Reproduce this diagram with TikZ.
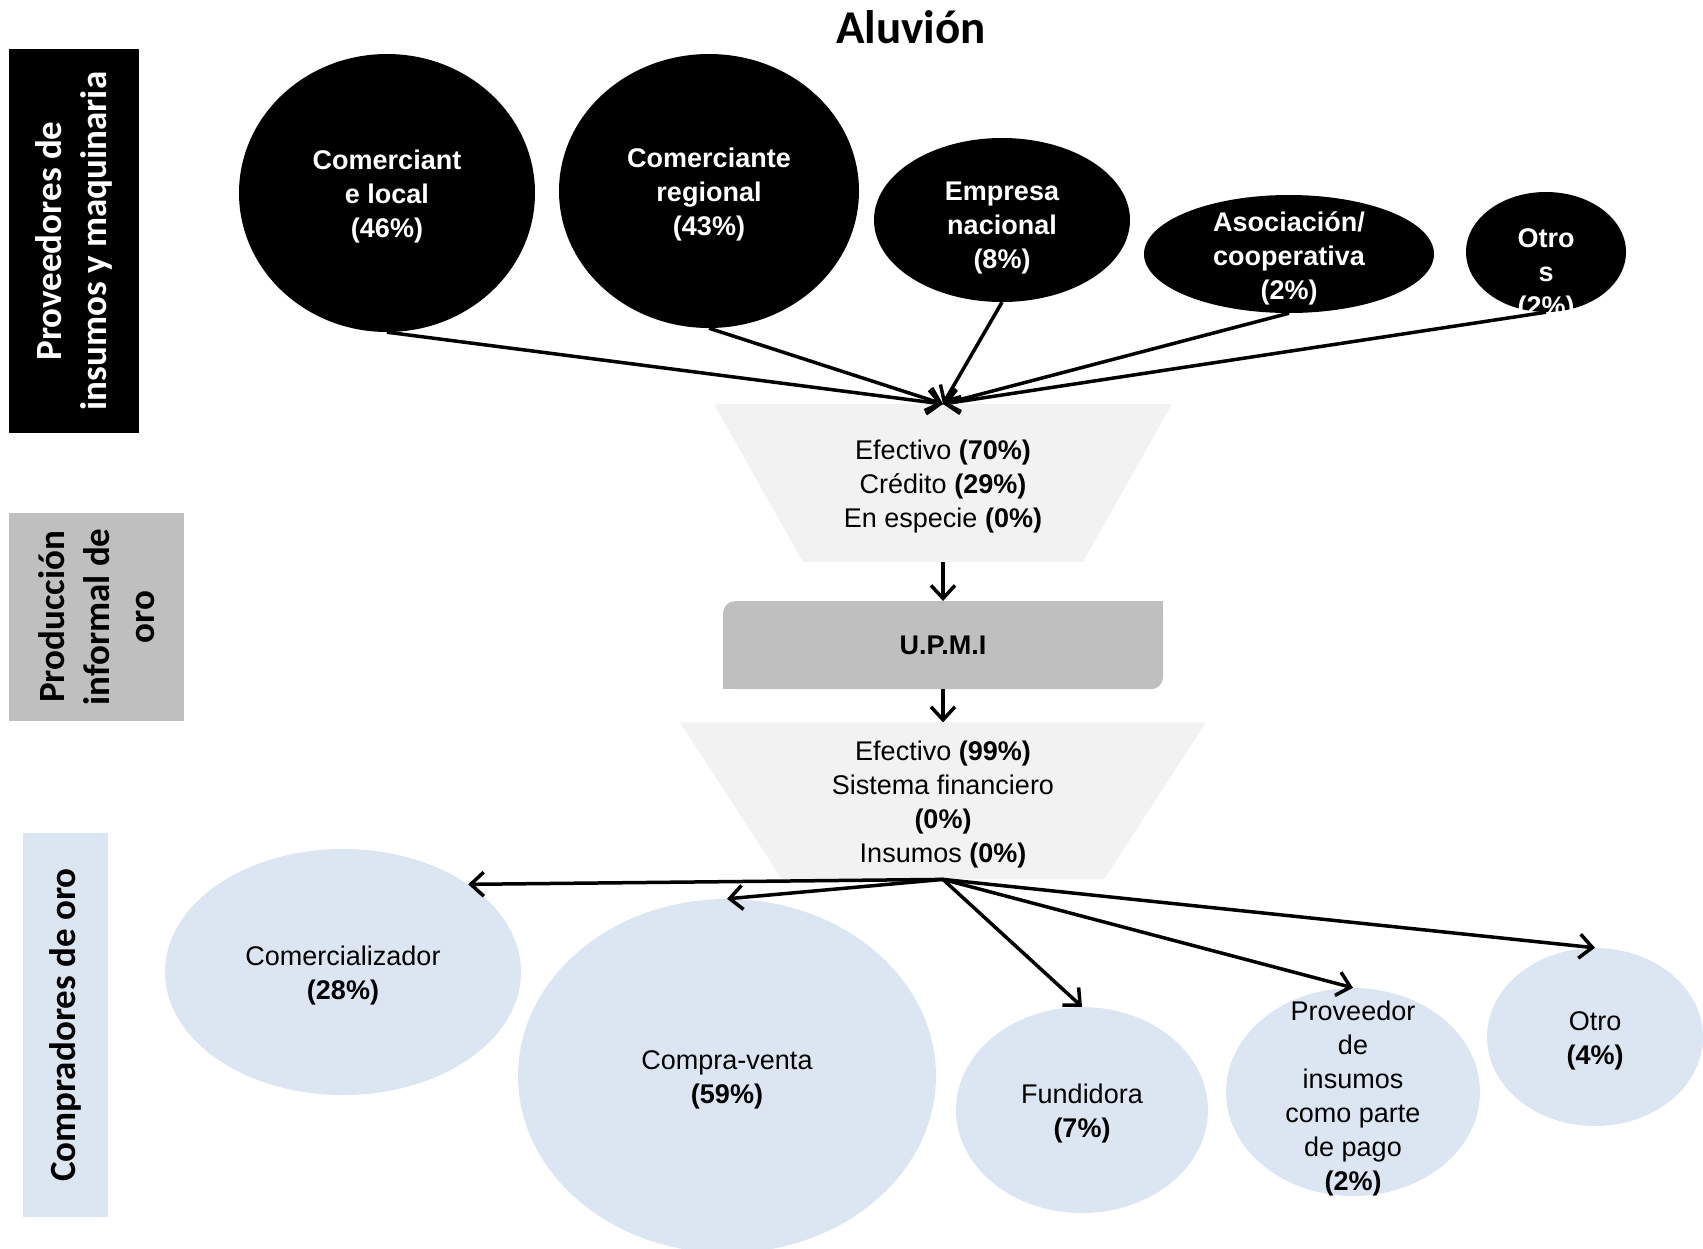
\documentclass[tikz,border=0pt]{standalone}
\usepackage{fontspec}
\setmainfont{Liberation Sans}
\newfontfamily\calibfont{Carlito}
\usetikzlibrary{positioning, arrows.meta, shapes.geometric}

\definecolor{panelgray}{HTML}{BFBFBF}
\definecolor{funnelgray}{HTML}{F2F2F2}
\definecolor{buyerblue}{HTML}{DCE6F2}

\begin{document}
\begin{tikzpicture}[
  x=1pt, y=-1pt,
  >={Straight Barb[length=13pt, width=24pt]},
  % --- node styles ---
  side/.style={
    rotate=90, align=center, inner sep=0pt,
    font=\calibfont\bfseries\fontsize{37}{45}\selectfont
  },
  prov/.style={ellipse, fill=black, inner sep=0pt},
  provtxt/.style={
    align=center, text=white, inner sep=0pt, yshift=-4pt,
    font=\bfseries\fontsize{27}{34}\selectfont
  },
  buyer/.style={ellipse, fill=buyerblue, inner sep=0pt},
  buyertxt/.style={
    align=center, inner sep=0pt, yshift=-4pt,
    font=\fontsize{27}{34}\selectfont
  },
  funtxt/.style={buyertxt},
  upmi/.style={
    fill=panelgray, rounded corners=12pt,
    minimum width=440pt, minimum height=88pt,
    font=\bfseries\fontsize{27}{34}\selectfont
  },
  arr/.style={->, line width=3.5pt},
]

\useasboundingbox (0,0) rectangle (1703,1248);

% ══════════════════════════════════════════════
% TITLE AND SIDE LABELS
% ══════════════════════════════════════════════

\node[font=\calibfont\bfseries\fontsize{47}{56}\selectfont, anchor=base]
  (title) at (911,43) {Aluvión};

\node[side, fill=black, text=white, minimum width=384pt, minimum height=130pt]
  (sprov) at (74,241) {Proveedores de\\insumos y maquinaria};
\node[side, fill=panelgray, minimum width=208pt, minimum height=175pt]
  (sprod) at (96.5,617) {Producción\\informal de\\oro};
\node[side, fill=buyerblue, minimum width=384pt, minimum height=85pt]
  (scomp) at (65.5,1025) {Compradores de oro};

% ══════════════════════════════════════════════
% SUPPLIERS (top)
% ══════════════════════════════════════════════

\node[prov, minimum width=296pt, minimum height=278pt] (local) at (387,193) {};
\node[prov, minimum width=300pt, minimum height=274pt] (regional) at (709,191) {};
\node[prov, minimum width=256pt, minimum height=164pt] (empresa) at (1002,220) {};
\node[prov, minimum width=290pt, minimum height=118pt] (asoc) at (1289,254) {};
\node[prov, minimum width=160pt, minimum height=120pt] (otros) at (1546,252) {};

\node[provtxt] (localtxt) at (local) {Comerciant\\e local\\(46\%)};
\node[provtxt] (regionaltxt) at (regional) {Comerciante\\regional\\(43\%)};
\node[provtxt] (empresatxt) at ([yshift=-4pt]empresa.center) {Empresa\\nacional\\(8\%)};
\node[provtxt] (asoctxt) at (asoc) {Asociación/\\cooperativa\\(2\%)};
\node[provtxt] (otrostxt) at ([yshift=-19pt]otros.center) {Otro\\s\\(2\%)};

% ══════════════════════════════════════════════
% PAYMENT FUNNELS AND U.P.M.I
% ══════════════════════════════════════════════

\coordinate (pagotop) at (943,404);
\coordinate (pagobot) at (943,562);
\fill[funnelgray] ([xshift=-229pt]pagotop) -- ([xshift=229pt]pagotop)
  -- ([xshift=140pt]pagobot) -- ([xshift=-140pt]pagobot) -- cycle;
\node[funtxt] (pago) at (943,483) {
  Efectivo \textbf{(70\%)}\\Crédito \textbf{(29\%)}\\En especie \textbf{(0\%)}};

\node[upmi, below=39pt of pagobot] (upmi) {U.P.M.I};
% square off the two plain corners
\fill[panelgray] (upmi.north east) rectangle ([xshift=-20pt, yshift=-20pt]upmi.north east);
\fill[panelgray] (upmi.south west) rectangle ([xshift=20pt, yshift=20pt]upmi.south west);

\coordinate[below=33pt of upmi] (cobrotop);
\coordinate[below=157pt of cobrotop] (cobrobot);
\fill[funnelgray] ([xshift=-263pt]cobrotop) -- ([xshift=263pt]cobrotop)
  -- ([xshift=161pt]cobrobot) -- ([xshift=-161pt]cobrobot) -- cycle;
\node[funtxt] (cobro) at ([yshift=-78pt]cobrotop) {
  Efectivo \textbf{(99\%)}\\Sistema financiero\\\textbf{(0\%)}\\Insumos \textbf{(0\%)}};

% ══════════════════════════════════════════════
% BUYERS (bottom)
% ══════════════════════════════════════════════

\node[buyer, minimum width=356pt, minimum height=246pt] (comerc) at (343,972) {};
\node[buyer, minimum width=418pt, minimum height=354pt] (compra) at (727,1076) {};
\node[buyer, minimum width=252pt, minimum height=206pt] (fundi) at (1082,1110) {};
\node[buyer, minimum width=254pt, minimum height=208pt] (proveed) at (1353,1092) {};
\node[buyer, minimum width=216pt, minimum height=178pt] (otro) at (1595,1037) {};

\node[buyertxt] (comerctxt) at (comerc) {Comercializador\\\textbf{(28\%)}};
\node[buyertxt] (compratxt) at (compra) {Compra-venta\\\textbf{(59\%)}};
\node[buyertxt] (funditxt) at (fundi) {Fundidora\\\textbf{(7\%)}};
\node[buyertxt] (proveedtxt) at ([yshift=-3pt]proveed.center) {
  Proveedor\\de\\insumos\\como parte\\de pago\\\textbf{(2\%)}};
\node[buyertxt] (otrotxt) at (otro) {Otro\\\textbf{(4\%)}};

% ══════════════════════════════════════════════
% FLOW ARROWS
% ══════════════════════════════════════════════

\foreach \src in {local, regional, empresa, asoc, otros}
  \draw[arr] (\src.south) -- (pagotop);

\draw[arr] (pagobot) -- (upmi.north);
\draw[arr] (upmi.south) -- (cobrotop);

\draw[arr] (cobrobot) -- (comerc.35);
\foreach \dst in {compra, fundi, proveed, otro}
  \draw[arr] (cobrobot) -- (\dst.north);

\end{tikzpicture}
\end{document}
